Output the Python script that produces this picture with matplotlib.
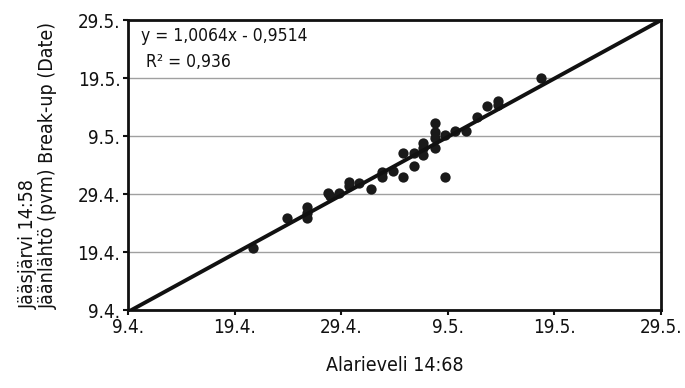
import matplotlib.pyplot as plt
import numpy as np

# break-up dates as day of year (99 = 9.4.)
alarieveli = [110.75, 113.89, 115.76, 115.76, 115.76, 117.79, 117.9, 118.82,
              119.76, 119.76, 120.7, 121.77, 122.8, 122.8, 123.86, 124.83,
              124.83, 125.83, 125.83, 126.7, 126.7, 126.7, 127.8, 127.8,
              127.8, 127.8, 128.74, 128.74, 129.68, 130.71, 131.77, 132.71,
              133.74, 133.74, 137.71]
jaasjarvi = [109.64, 114.81, 116.81, 115.67, 114.81, 119.12, 118.6, 119.12,
             121.12, 120.47, 120.95, 119.81, 122.84, 121.98, 122.97, 126.02,
             121.88, 126.02, 123.83, 127.84, 126.88, 125.72, 131.19, 129.74,
             128.6, 126.88, 129.17, 121.88, 129.91, 129.91, 132.22, 134.17,
             135.09, 134.43, 138.95]

tick_days = [99, 109, 119, 129, 139, 149]
tick_labels = ['9.4.', '19.4.', '29.4.', '9.5.', '19.5.', '29.5.']

slope = 1.0064
intercept = -0.9514

plt.rcParams['font.family'] = ['DejaVu Sans']
plt.rcParams['font.stretch'] = 'condensed'

fig = plt.figure(figsize=(6.85, 3.88), dpi=100)
ax = fig.add_axes([0.187, 0.201, 0.778, 0.747])

ax.set_xlim(99, 149)
ax.set_ylim(99, 149)
ax.set_xticks(tick_days)
ax.set_xticklabels(tick_labels)
ax.set_yticks(tick_days)
ax.set_yticklabels(tick_labels)
ax.yaxis.grid(True, color='#a0a0a0', linewidth=1)
ax.set_axisbelow(True)

for s in ax.spines.values():
    s.set_linewidth(2.0)
    s.set_color('#111111')
ax.tick_params(direction='out', length=3.5, width=1.5, labelsize=13.5, colors='#111111', pad=2)

ax.scatter(alarieveli, jaasjarvi, s=55, color='#1a1a1a', zorder=3, linewidths=0)

xl = np.array([99, 149])
ax.plot(xl, slope * xl + intercept, color='#111111', linewidth=2.8, zorder=4)

ax.text(0.025, 0.975, 'y = 1,0064x - 0,9514', transform=ax.transAxes,
        fontsize=12.5, va='top', ha='left', color='#111111')
ax.text(0.033, 0.888, 'R² = 0,936', transform=ax.transAxes,
        fontsize=12.5, va='top', ha='left', color='#111111')

ax.set_xlabel('Alarieveli 14:68', fontsize=14, labelpad=14, color='#111111')
ax.set_ylabel('Jääsjärvi 14:58\nJäänlähtö (pvm) Break-up (Date)', fontsize=14,
              multialignment='left', labelpad=14, color='#111111', linespacing=1.1)

fig.savefig('out.png', dpi=100)
